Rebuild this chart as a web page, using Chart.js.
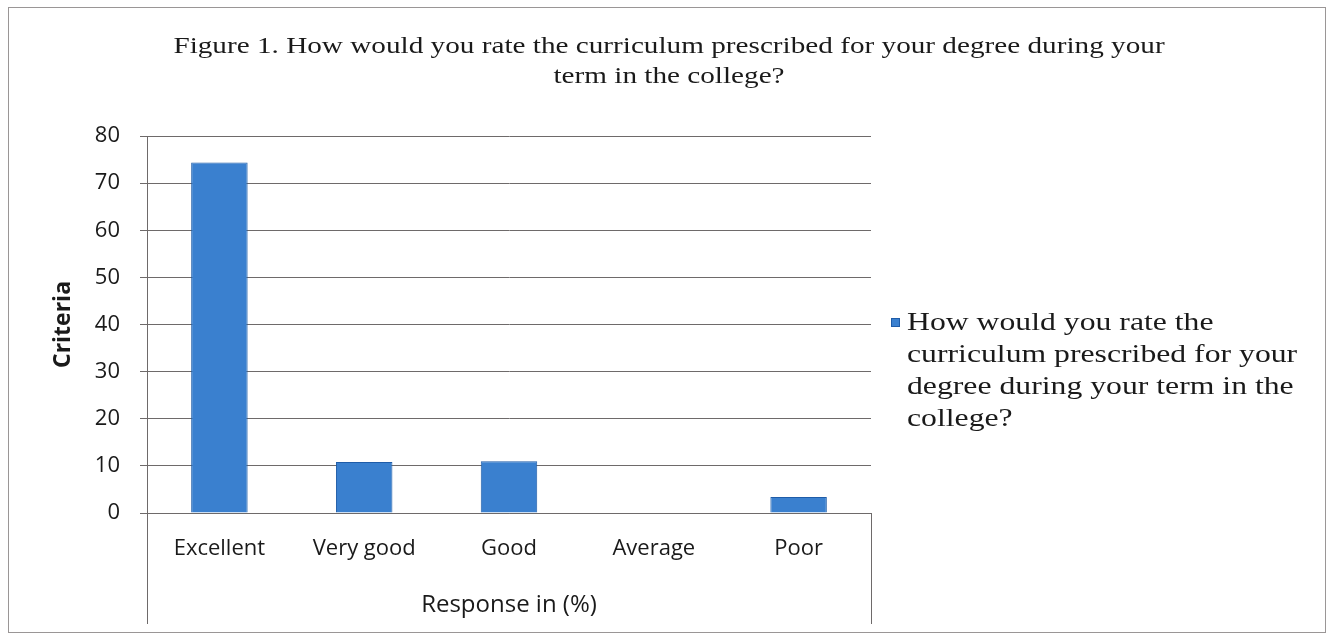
<!DOCTYPE html>
<html lang="en">
<head>
  <meta charset="UTF-8">
  <title>Figure 1 | Curriculum rating</title>
  <script src="https://cdn.jsdelivr.net/npm/chart.js"></script>
  <style>
    html, body {
      margin: 0;
      padding: 0;
      background: #ffffff;
    }
    #wrap {
      position: relative;
      width: 1333px;
      height: 637px;
    }
  </style>
</head>
<body>
  <div id="wrap">
    <canvas id="ratingChart" width="1333" height="637"></canvas>
  </div>

  <script>
    // data
    const categories = ['Excellent', 'Very good', 'Good', 'Average', 'Poor'];
    const responses = [74.4, 10.8, 11.0, 0, 3.4];
    const seriesName = 'How would you rate the curriculum prescribed for your degree during your term in the college?';
    const legendLines = ['How would you rate the', 'curriculum prescribed for your', 'degree during your term in the', 'college?'];
    const titleLines = ['Figure 1. How would you rate the curriculum prescribed for your degree during your', 'term in the college?'];
    const yTicks = [0, 10, 20, 30, 40, 50, 60, 70, 80];

    const barFill = '#3a80cf';
    const barEdge = '#1f5ca8';
    const gridColor = '#6e6a6a';
    const textColor = '#1a1a1a';

    // the scanned figure is stretched sideways, so serif text is drawn wider
    function wideText(ctx, txt, x, y, sx, align) {
      ctx.save();
      ctx.translate(x, y);
      ctx.scale(sx, 1);
      ctx.textAlign = align;
      ctx.fillText(txt, 0, 0);
      ctx.restore();
    }

    // frame, title, the box under the plot, wrapped legend
    const extras = {
      id: 'extras',
      afterDraw(chart) {
        const ctx = chart.ctx;
        const a = chart.chartArea;
        ctx.save();
        ctx.strokeStyle = '#9a9696';
        ctx.lineWidth = 1;
        ctx.strokeRect(8.5, 7.5, 1317, 625);

        ctx.strokeStyle = gridColor;
        ctx.beginPath();
        ctx.moveTo(Math.round(a.left) + 0.5, a.bottom);
        ctx.lineTo(Math.round(a.left) + 0.5, 624);
        ctx.moveTo(Math.round(a.right) + 0.5, a.bottom);
        ctx.lineTo(Math.round(a.right) + 0.5, 624);
        ctx.stroke();

        // title
        ctx.fillStyle = textColor;
        ctx.textBaseline = 'middle';
        ctx.font = '23px "Liberation Serif"';
        titleLines.forEach((t, i) => wideText(ctx, t, 669, 47 + i * 30, 1.27, 'center'));

        // legend
        const lx = a.right + 20, ly = 323;
        ctx.fillStyle = barFill;
        ctx.fillRect(lx, ly - 5, 9, 9);
        ctx.strokeStyle = barEdge;
        ctx.strokeRect(lx + 0.5, ly - 4.5, 8, 8);
        ctx.fillStyle = textColor;
        ctx.font = '26px "Liberation Serif"';
        legendLines.forEach((t, i) => wideText(ctx, t, lx + 16, ly + i * 32, 1.22, 'left'));
        ctx.restore();
      }
    };

    const ctx = document.getElementById('ratingChart').getContext('2d');

    new Chart(ctx, {
      type: 'bar',
      data: {
        labels: categories,
        datasets: [{
          label: seriesName,
          data: responses,
          backgroundColor: barFill,
          borderColor: barEdge,
          borderWidth: 1,
          categoryPercentage: 1,
          barPercentage: 0.39
        }]
      },
      options: {
        responsive: false,
        animation: false,
        layout: {
          padding: { left: 10, right: 462, top: 136, bottom: 10 }
        },
        plugins: {
          legend: { display: false },
          tooltip: { enabled: false },
          title: { display: false }
        },
        scales: {
          x: {
            grid: { display: false, drawTicks: false },
            border: { display: true, color: gridColor },
            ticks: {
              color: textColor,
              padding: 23,
              font: { family: '"Open Sans"', size: 22 }
            },
            title: {
              display: true,
              text: 'Response in (%)',
              color: textColor,
              font: { family: '"Open Sans"', size: 24 },
              padding: { top: 8, bottom: 7 }
            },
            afterFit(scale) { scale.height = 114; }
          },
          y: {
            min: 0,
            max: 80,
            afterBuildTicks(scale) { scale.ticks = yTicks.map(v => ({ value: v })); },
            grid: {
              color: gridColor,
              tickLength: 7,
              drawTicks: true
            },
            border: { display: true, color: gridColor },
            ticks: {
              color: textColor,
              padding: 20,
              font: { family: '"Open Sans"', size: 22 }
            },
            title: {
              display: true,
              text: 'Criteria',
              color: textColor,
              font: { family: '"Open Sans"', size: 23, weight: 'bold' },
              padding: { top: 40, bottom: 0 }
            },
            afterFit(scale) { scale.width = 137; }
          }
        }
      },
      plugins: [extras]
    });
  </script>
</body>
</html>
